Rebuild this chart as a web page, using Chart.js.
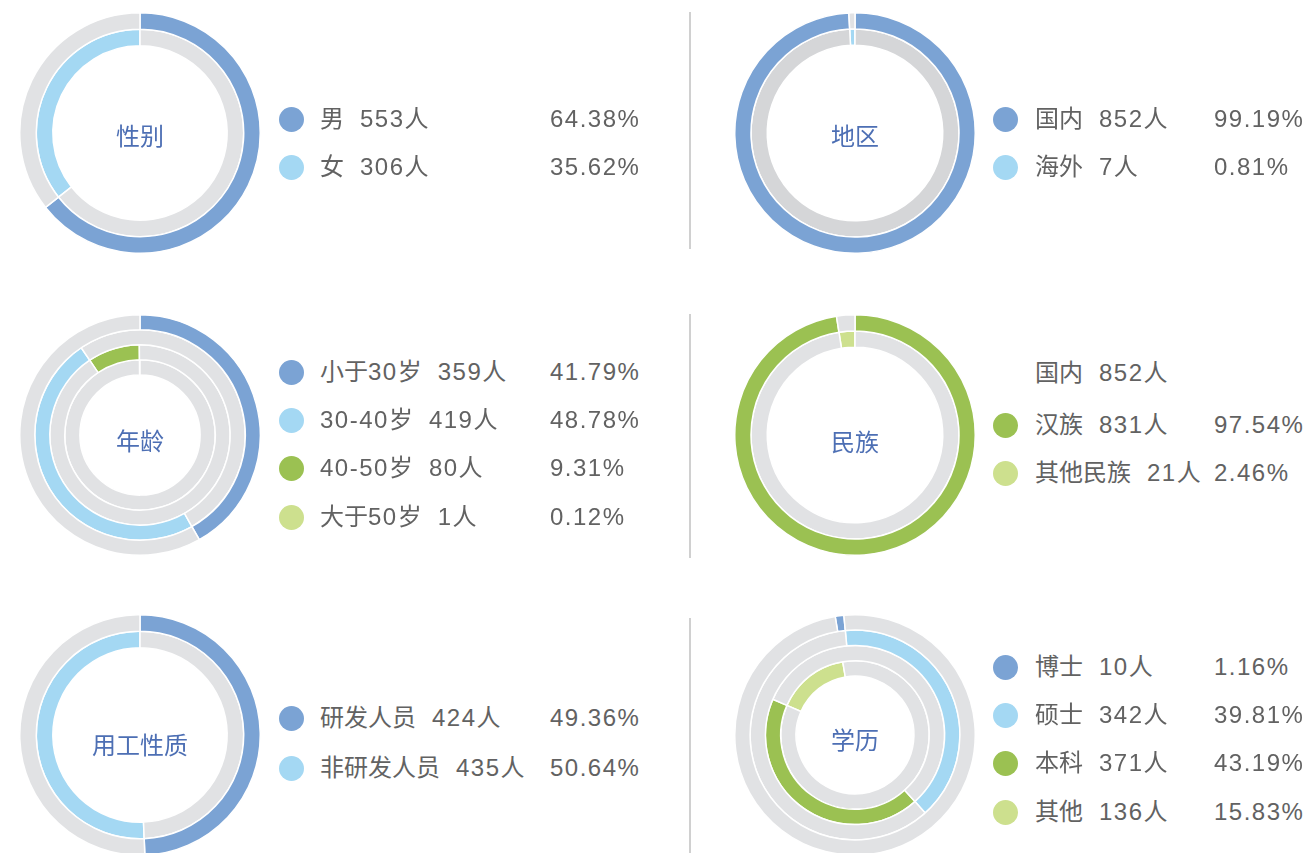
<!DOCTYPE html>
<html>
<head>
<meta charset="utf-8">
<script src="https://cdn.jsdelivr.net/npm/chart.js@4.4.0/dist/chart.umd.min.js"></script>
<style>
  html, body { margin: 0; padding: 0; background: #fff; }
  body { width: 1308px; height: 853px; overflow: hidden; position: relative;
         font-family: "Liberation Sans", "Noto Sans CJK SC", sans-serif; }
  canvas.ring { position: absolute; }
  .center { position: absolute; color: #4d6fb4; font-size: 24px; white-space: nowrap;
            transform: translate(-50%, -50%); font-family: "Noto Sans CJK SC", sans-serif; }
  .row { position: absolute; height: 30px; line-height: 30px; color: #626262; font-size: 24px;
         white-space: nowrap; }
  .row .cnt { margin-left: 16px; }
  .num { letter-spacing: 1.5px; }
  .dot { position: absolute; width: 25px; height: 25px; border-radius: 50%; }
  .pct { position: absolute; height: 30px; line-height: 30px; color: #626262; font-size: 24px;
         white-space: nowrap; letter-spacing: 1.5px; }
  .sep { position: absolute; left: 689px; width: 2px; background: #d0d0d0; }
</style>
</head>
<body>
<script>
// data
var genderLabels = ['男', '女'];
var genderCounts = [553, 306];
var genderPct = ['64.38%', '35.62%'];

var regionLabels = ['国内', '海外'];
var regionCounts = [852, 7];
var regionPct = ['99.19%', '0.81%'];

var ageLabels = ['小于30岁', '30-40岁', '40-50岁', '大于50岁'];
var ageCounts = [359, 419, 80, 1];
var agePct = ['41.79%', '48.78%', '9.31%', '0.12%'];

var nationNote = ['国内', 852];
var nationLabels = ['汉族', '其他民族'];
var nationCounts = [831, 21];
var nationPct = ['97.54%', '2.46%'];

var jobLabels = ['研发人员', '非研发人员'];
var jobCounts = [424, 435];
var jobPct = ['49.36%', '50.64%'];

var eduLabels = ['博士', '硕士', '本科', '其他'];
var eduCounts = [10, 342, 371, 136];
var eduPct = ['1.16%', '39.81%', '43.19%', '15.83%'];

// colours
var blue = '#7ba3d4', lightBlue = '#a4d8f3', green = '#9bc152', lightGreen = '#cde08e';
var gray = '#e1e2e4', darkGray = '#d5d6d8';

function el(tag, cls, style, text) {
  var e = document.createElement(tag);
  if (cls) e.className = cls;
  Object.assign(e.style, style || {});
  if (text != null) e.textContent = text;
  document.body.appendChild(e);
  return e;
}

// one ring per category, each ring starts where the previous one ended
function ringChart(p, counts, colors, tracks) {
  var total = counts.reduce(function (a, b) { return a + b; }, 0);
  var cum = 0;
  var datasets = counts.map(function (v, i) {
    var ds = {
      data: [v, total - v],
      backgroundColor: [colors[i], tracks[i]],
      rotation: p.start + cum / total * 360,
      borderColor: '#fff',
      borderWidth: 1.5
    };
    cum += v;
    return ds;
  });
  var c = el('canvas', 'ring', { left: (p.cx - 121) + 'px', top: (p.cy - 121) + 'px' });
  c.width = 242; c.height = 242;
  new Chart(c, {
    type: 'doughnut',
    data: { labels: ['', ''], datasets: datasets },
    options: {
      responsive: false,
      animation: false,
      events: [],
      cutout: p.cutout,
      plugins: { legend: { display: false }, tooltip: { enabled: false } }
    }
  });
  el('div', 'center', { left: p.cx + 'px', top: p.labelY + 'px' }, p.title);
}

// digits in the legend are drawn a little wider
function digits(s) {
  return String(s).replace(/([0-9\-]+)/g, '<span class="num">$1</span>');
}

function textRow(x, y, name, count) {
  var r = el('div', 'row', { left: x + 'px', top: (y - 15) + 'px' });
  r.innerHTML = digits(name) + '<span class="cnt num">' + count + '人</span>';
}

function legend(p, labels, counts, pcts, colors) {
  labels.forEach(function (name, i) {
    var y = p.rows[i];
    el('div', 'dot', { left: (p.lx - 12.5) + 'px', top: (y - 12.5) + 'px', background: colors[i] });
    textRow(p.tx, y, name, counts[i]);
    el('div', 'pct', { left: p.px + 'px', top: (y - 15) + 'px' }, pcts[i]);
  });
}

var L = { lx: 291, tx: 320, px: 550 };
var R = { lx: 1005, tx: 1035, px: 1214 };

// 性别
var p1 = Object.assign({ cx: 140, cy: 133, labelY: 134, start: 0, cutout: '72.5%', title: '性别', rows: [119, 167] }, L);
ringChart(p1, genderCounts, [blue, lightBlue], [gray, gray]);
legend(p1, genderLabels, genderCounts, genderPct, [blue, lightBlue]);

// 地区
var p2 = Object.assign({ cx: 855, cy: 133, labelY: 134, start: 0, cutout: '73%', title: '地区', rows: [119, 167] }, R);
ringChart(p2, regionCounts, [blue, lightBlue], [gray, darkGray]);
legend(p2, regionLabels, regionCounts, regionPct, [blue, lightBlue]);

// 年龄
var p3 = Object.assign({ cx: 140, cy: 435, labelY: 439, start: 0, cutout: '50%', title: '年龄', rows: [372, 420, 468, 517] }, L);
ringChart(p3, ageCounts, [blue, lightBlue, green, lightGreen], [gray, gray, gray, gray]);
legend(p3, ageLabels, ageCounts, agePct, [blue, lightBlue, green, lightGreen]);

// 民族
var p4 = Object.assign({ cx: 855, cy: 435, labelY: 440, start: 0, cutout: '73%', title: '民族', rows: [425, 473] }, R);
ringChart(p4, nationCounts, [green, lightGreen], [gray, gray]);
textRow(R.tx, 373, nationNote[0], nationNote[1]);
legend(p4, nationLabels, nationCounts, nationPct, [green, lightGreen]);

// 用工性质
var p5 = Object.assign({ cx: 140, cy: 735, labelY: 743, start: 0, cutout: '72.5%', title: '用工性质', rows: [718, 768] }, L);
ringChart(p5, jobCounts, [blue, lightBlue], [gray, gray]);
legend(p5, jobLabels, jobCounts, jobPct, [blue, lightBlue]);

// 学历
var p6 = Object.assign({ cx: 855, cy: 735, labelY: 738, start: -9.5, cutout: '49%', title: '学历', rows: [667, 715, 763, 812] }, R);
ringChart(p6, eduCounts, [blue, lightBlue, green, lightGreen], [gray, gray, gray, gray]);
legend(p6, eduLabels, eduCounts, eduPct, [blue, lightBlue, green, lightGreen]);

// vertical separators
el('div', 'sep', { top: '12px', height: '237px' });
el('div', 'sep', { top: '314px', height: '244px' });
el('div', 'sep', { top: '618px', height: '235px' });
</script>
</body>
</html>
